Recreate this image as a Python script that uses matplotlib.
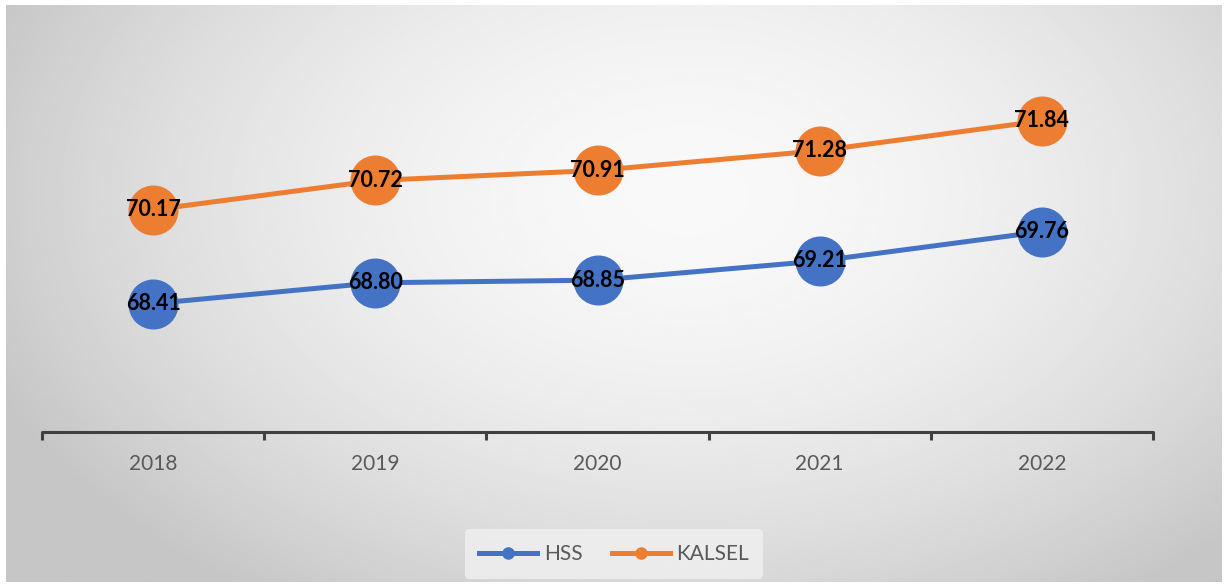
import numpy as np
import matplotlib
matplotlib.use("Agg")
import matplotlib.pyplot as plt
from matplotlib.lines import Line2D

years = ["2018", "2019", "2020", "2021", "2022"]
hss = [68.41, 68.80, 68.85, 69.21, 69.76]
kalsel = [70.17, 70.72, 70.91, 71.28, 71.84]

BLUE = "#4472C4"
ORANGE = "#ED7D31"
GRAY_TEXT = "#595959"

plt.rcParams["font.family"] = ["Lato", "DejaVu Sans"]

W, H = 1227, 588
fig = plt.figure(figsize=(W / 100, H / 100), dpi=100)
fig.patch.set_facecolor("white")

# chart area with a soft radial gradient
bg = fig.add_axes([6 / W, 6 / H, 1216 / W, 577 / H], zorder=0)
yy, xx = np.mgrid[0:1:300j, 0:1:600j]
d = np.sqrt(((xx - 0.56) / 0.62) ** 2 + ((yy - 0.33) / 0.85) ** 2)
shade = 0.975 - 0.20 * np.clip(d, 0, 1) ** 1.8
bg.imshow(shade, cmap="gray", vmin=0, vmax=1, aspect="auto",
          extent=[0, 1, 1, 0], interpolation="bilinear")
bg.axis("off")

ax = fig.add_axes([42 / W, 1 - 432 / H, 1111 / W, 373 / H], zorder=1)
ax.patch.set_alpha(0)
x = np.arange(len(years))

for vals, col in [(hss, BLUE), (kalsel, ORANGE)]:
    ax.plot(x, vals, color=col, lw=3.6, marker="o", ms=35,
            mfc=col, mec=col, solid_capstyle="round")
    for xi, v in zip(x, vals):
        ax.text(xi, v, f"{v:.2f}", ha="center", va="center",
                fontsize=15.5, fontweight="bold", color="black")

ax.set_xlim(-0.5, len(years) - 0.5)
ax.set_ylim(66, 73)
ax.set_yticks([])
for s in ["top", "left", "right"]:
    ax.spines[s].set_visible(False)
ax.spines["bottom"].set_color("#404040")
ax.spines["bottom"].set_linewidth(2.2)
ax.spines["bottom"].set_capstyle("round")

ax.set_xticks(x)
ax.set_xticklabels(years, fontsize=15, color=GRAY_TEXT)
ax.tick_params(axis="x", which="major", length=0, pad=16)
ax.set_xticks(np.arange(-0.5, len(years)), minor=True)
ax.tick_params(axis="x", which="minor", length=6, width=2.2,
               color="#404040", direction="out")

handles = [
    Line2D([], [], color=BLUE, lw=3.6, marker="o", ms=8),
    Line2D([], [], color=ORANGE, lw=3.6, marker="o", ms=8),
]
leg = fig.legend(handles, ["HSS", "KALSEL"], loc="center",
                 bbox_to_anchor=(614 / W, 1 - 554 / H), ncol=2,
                 frameon=True, fontsize=15, handlelength=2.8,
                 columnspacing=1.4, borderpad=0.7, handletextpad=0.3)
leg.get_frame().set_facecolor("#eeeeee")
leg.get_frame().set_edgecolor("none")
leg.get_frame().set_alpha(0.9)
for t in leg.get_texts():
    t.set_color(GRAY_TEXT)

fig.savefig("out.png", dpi=100)
